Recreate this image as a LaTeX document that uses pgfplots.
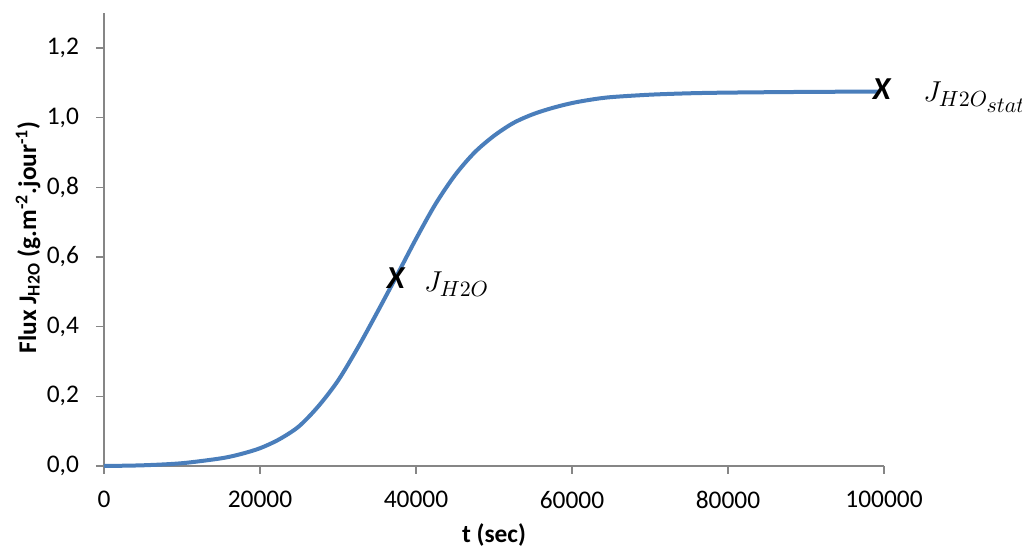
\documentclass[border=0pt]{standalone}
\usepackage{pgfplots}
\pgfplotsset{compat=1.18}
\usepackage{fontspec}
\setmainfont{Carlito}
\definecolor{curve}{HTML}{4A7EBB}
\definecolor{axisgray}{HTML}{868686}
\begin{document}
\begin{tikzpicture}
\useasboundingbox (-52pt,-41.5pt) rectangle (459pt,233pt);
\begin{axis}[
  at={(0,0)}, anchor=south west,
  scale only axis, width=390pt, height=226.4pt,
  xmin=0, xmax=100000, ymin=0, ymax=1.3,
  axis lines*=left,
  axis line style={axisgray, line width=0.75pt},
  tick style={axisgray, line width=0.75pt},
  tick align=outside, major tick length=4pt,
  xtick={0,20000,40000,60000,80000,100000},
  ytick={0,0.2,0.4,0.6,0.8,1.0,1.2},
  clip=false,
  font=\fontsize{12.7}{15}\selectfont,
  /pgf/number format/assume math mode=true,
  scaled x ticks=false,
  xticklabel style={/pgf/number format/.cd, fixed, 1000 sep={}, /tikz/.cd, yshift=-5pt},
  yticklabel style={/pgf/number format/.cd, fixed, fixed zerofill, precision=1, use comma, /tikz/.cd, xshift=-5pt},
  xlabel={\textbf{t (sec)}},
  ylabel={\textbf{Flux J\textsubscript{H2O} (g.m\textsuperscript{-2}.jour\textsuperscript{-1})}},
  xlabel style={at={(axis description cs:0.5,0)}, anchor=center, yshift=-34.5pt},
  ylabel style={at={(axis description cs:-0.0974,0.505)}, anchor=center},
]
\addplot[curve, line width=2pt, smooth] coordinates {
(0,0.000) (5000,0.002) (10000,0.008) (15000,0.022) (17500,0.034) (20000,0.051)
(22500,0.077) (25000,0.114) (27500,0.172) (30000,0.245) (32500,0.338)
(35000,0.440) (37500,0.545) (40000,0.652) (42500,0.752) (45000,0.835)
(47500,0.900) (50000,0.948) (52500,0.985) (55000,1.010) (57500,1.028)
(60000,1.042) (62500,1.052) (65000,1.059) (70000,1.066) (75000,1.070)
(80000,1.072) (90000,1.074) (99500,1.075)
};
\addplot[only marks, mark=none, black, point meta=y,
  nodes near coords={\fontsize{16}{16}\selectfont\bfseries\itshape X},
  every node near coord/.append style={anchor=center, text=black}]
  coordinates {(37400,0.539) (99700,1.083)};
\node[anchor=base west, inner sep=0pt, font=\fontsize{15}{15}\selectfont] at (axis cs:41000,0.500) {$J_{H2O}$};
\node[anchor=base west, inner sep=0pt, font=\fontsize{15}{15}\selectfont] at (axis cs:105000,1.046) {$J_{H2O_{\scriptstyle stat}}$};
\end{axis}
\end{tikzpicture}
\end{document}
